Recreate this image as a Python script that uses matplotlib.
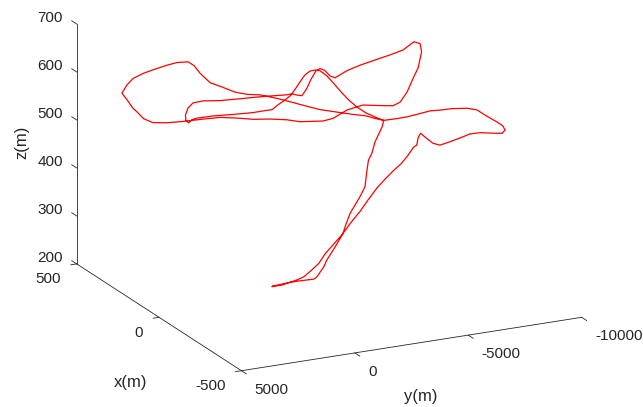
import numpy as np
import matplotlib
matplotlib.use('Agg')
import matplotlib.pyplot as plt
from mpl_toolkits.mplot3d import proj3d

plt.rcParams['font.family'] = ['Liberation Sans', 'DejaVu Sans']

# ---- flight track, metres (in flight order) ----
# ground roll + climb to the first turn
climb_x = [0] * 22
climb_y = [0, -420, -860, -1170, -1830, -1960, -2270, -2400, -2760, -3100,
           -3240, -3420, -3640, -3860, -4080, -4150, -4230, -4380, -4520, -4740,
           -4850, -4900]
climb_z = [228, 229, 230, 230, 229, 233, 252, 265, 289, 314,
           333, 354, 370, 386, 405, 433, 459, 472, 495, 515, 526, 537]

# outbound leg to the western loop
west_x = [14, 29, 52, 74, 109, 131, 155, 183, 212, 235, 255, 276, 298, 316,
          326, 336, 355, 372, 397, 414, 431, 441, 450]
west_y = [-4620, -4340, -3930, -3520, -2890, -2480, -2030, -1530, -990, -580,
          -200, 180, 590, 900, 1090, 1280, 1630, 1950, 2390, 2700, 3020, 3210, 3370]
west_z = [540, 544, 545, 547, 550, 555, 561, 567, 572, 571, 574, 582, 590, 608,
          623, 630, 627, 620, 608, 599, 587, 573, 555]

# back east, up over the top loop
east_x = [441, 431, 424, 413, 397, 372, 345, 310, 281, 252, 224, 195, 166, 143,
          103, 86, 82, 75, 65, 63, 71, 59, 48, 40, 34, 36, 47, 66, 88, 110,
          140, 162, 174, 183, 191, 201, 209, 196, 184, 172, 160, 148, 157]
east_y = [3210, 3020, 2890, 2690, 2390, 1950, 1440, 810, 270, -270, -770, -1310,
          -1840, -2250, -2980, -3300, -3880, -4530, -5220, -5770, -6140, -6360,
          -6550, -6710, -6820, -6770, -6580, -6230, -5820, -5410, -4880, -4470,
          -4240, -4090, -3930, -3760, -3610, -3340, -3040, -2750, -2460, -2160, -2000]
east_z = [542, 525, 518, 505, 498, 500, 505, 513, 519, 520, 520, 523, 524, 522,
          527, 534, 548, 555, 551, 547, 550, 572, 602, 624, 658, 675, 678, 659,
          647, 636, 621, 608, 598, 591, 594, 605, 608, 608, 596, 580, 571, 577, 579]

# narrow inner loop
inner_x = [166, 178, 195, 217, 241, 281, 310, 328, 336, 341, 340, 335, 329, 321,
           293, 259, 224, 203, 191, 181, 169, 159, 150, 141, 135, 126, 117, 109,
           97, 85, 72, 59, 45, 29, 14, 0]
inner_y = [-1840, -1620, -1310, -900, -450, 270, 810, 1120, 1280, 1360, 1350, 1270,
           1160, 1000, 490, -140, -770, -1150, -1370, -1560, -1780, -1970, -2130,
           -2290, -2410, -2570, -2730, -2890, -3110, -3330, -3550, -3800, -4050,
           -4340, -4620, -4900]
inner_z = [576, 574, 571, 567, 562, 554, 551, 545, 534, 519, 508, 503, 510, 514,
           521, 527, 534, 540, 543, 554, 565, 576, 592, 609, 620, 629, 632, 631,
           621, 606, 590, 574, 561, 550, 543, 537]

# eastern loop and descent back to the start
return_x = [-12, -24, -41, -59, -81, -98, -119, -145, -162, -179, -195, -206,
            -210, -205, -190, -167, -150, -138, -116, -98, -86, -74, -65, -55,
            -45, -35, -25, -12] + [0] * 16
return_y = [-5100, -5320, -5630, -5950, -6360, -6670, -7050, -7530, -7840, -8160,
            -8440, -8650, -8730, -8630, -8350, -7940, -7620, -7400, -6990, -6670,
            -6450, -6230, -6060, -6030, -6030, -5960, -5810, -5580, -5330, -4960,
            -4600, -4210, -3860, -3460, -3100, -2710, -2320, -2040, -1740, -1380,
            -1010, -710, -420, 20]
return_z = [540, 543, 548, 555, 564, 567, 572, 575, 573, 561, 552, 544, 535, 528,
            527, 526, 522, 515, 503, 494, 497, 507, 516, 506, 487, 481, 464, 444,
            429, 414, 398, 376, 355, 335, 314, 296, 278, 260, 249, 237, 232, 230,
            227, 227]

x_ticks = [-500, 0, 500]
y_ticks = [-10000, -5000, 0, 5000]
z_ticks = [200, 300, 400, 500, 600, 700]
x_lim = (-500, 500)
y_lim = (-10000, 5000)
z_lim = (200, 700)

xs = np.concatenate([climb_x, west_x, east_x, inner_x, return_x])
ys = np.concatenate([climb_y, west_y, east_y, inner_y, return_y])
zs = np.concatenate([climb_z, west_z, east_z, inner_z, return_z])

W, H = 643, 407
fig = plt.figure(figsize=(W / 100, H / 100), dpi=100)
ax = fig.add_subplot(projection='3d', proj_type='ortho')
ax.set_box_aspect((373, 379, 253))
ax.view_init(elev=18.6, azim=153.8)

ax.plot(xs, ys, zs, color='r', lw=0.9)

# MATLAB-like axes: only three axis lines, no panes / grid
axc = '#262626'
alw = 0.6
ax.plot([x_lim[1]] * 2, [y_lim[1]] * 2, z_lim, color=axc, lw=alw)
ax.plot(x_lim, [y_lim[1]] * 2, [z_lim[0]] * 2, color=axc, lw=alw)
ax.plot([x_lim[0]] * 2, y_lim, [z_lim[0]] * 2, color=axc, lw=alw)

fs = 11
for z in z_ticks:
    ax.plot([x_lim[1], x_lim[1] + 30], [y_lim[1]] * 2, [z, z], color=axc, lw=alw)
    ax.text(x_lim[1] + 85, y_lim[1], z - 6, str(z), ha='right', va='center',
            fontsize=fs, color=axc)
for x in x_ticks:
    ax.plot([x, x], [y_lim[1], y_lim[1] + 260], [z_lim[0]] * 2, color=axc, lw=alw)
    ax.text(x, y_lim[1] + 700, z_lim[0] - 12, str(x), ha='right', va='top',
            fontsize=fs, color=axc)
for y in y_ticks:
    ax.plot([x_lim[0], x_lim[0] - 30], [y, y], [z_lim[0]] * 2, color=axc, lw=alw)
    ax.text(x_lim[0] - 80, y, z_lim[0] - 7, str(y), ha='left', va='top',
            fontsize=fs, color=axc)

ax.set_xlim(*x_lim)
ax.set_ylim(*y_lim)
ax.set_zlim(*z_lim)
ax.set_axis_off()

fig.text(22 / W, 1 - 142 / H, 'z(m)', rotation=90, ha='center', va='center',
         fontsize=12, color=axc)
fig.text(131 / W, 1 - 383 / H, 'x(m)', ha='center', va='center', fontsize=12, color=axc)
fig.text(421 / W, 1 - 397 / H, 'y(m)', ha='center', va='center', fontsize=12, color=axc)

# place the box so its corners land where they are in the reference
fig.canvas.draw()


def to_px(p):
    a, b, _ = proj3d.proj_transform(p[0], p[1], p[2], ax.M)
    return ax.transData.transform((a, b))


p_top = to_px((x_lim[1], y_lim[1], z_lim[1]))
p_bot = to_px((x_lim[0], y_lim[0], z_lim[0]))
t_top = np.array([76.7, H - 24.0])
t_bot = np.array([581.7, H - 317.3])
k = np.linalg.norm(t_bot - t_top) / np.linalg.norm(p_bot - p_top)
bb = ax.get_position()
x0, y0 = bb.x0 * W, bb.y0 * H
nx0 = t_top[0] - (p_top[0] - x0) * k
ny0 = t_top[1] - (p_top[1] - y0) * k
ax.set_position([nx0 / W, ny0 / H, bb.width * k, bb.height * k])

fig.savefig('out.png', dpi=100)
